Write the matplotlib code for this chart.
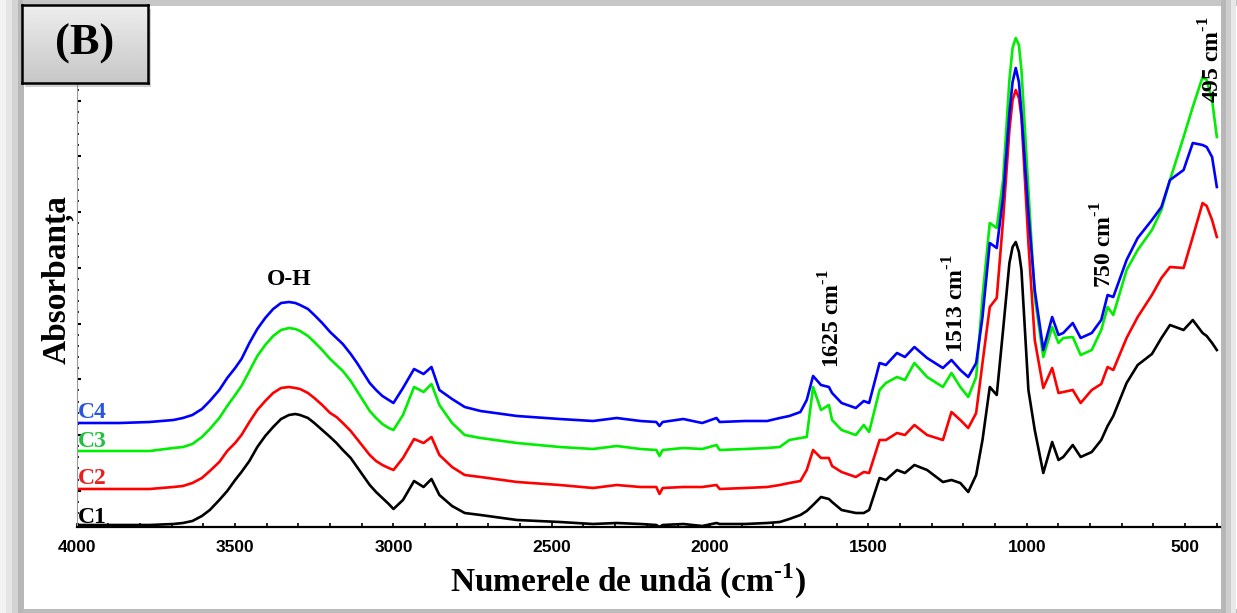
import numpy as np
import matplotlib.pyplot as plt
from matplotlib.ticker import MultipleLocator, AutoMinorLocator, FixedLocator
from matplotlib.patches import Rectangle

plt.rcParams['mathtext.fontset'] = 'custom'
plt.rcParams['mathtext.rm'] = 'Liberation Serif'
plt.rcParams['mathtext.bf'] = 'Liberation Serif:bold'

# wavenumbers (cm-1) shared by all four spectra
wavenumber = [4000, 3865, 3770, 3695, 3665, 3635, 3605, 3580, 3550, 3525,
              3500, 3480, 3455, 3430, 3405, 3380, 3355, 3330, 3310, 3295,
              3270, 3250, 3225, 3200, 3180, 3160, 3135, 3115, 3095, 3075,
              3055, 3035, 3015, 3000, 2970,
              2935, 2905, 2880, 2855, 2815, 2775, 2725, 2610, 2475, 2370,
              2295, 2220, 2170, 2160, 2150, 2085, 2025, 1980, 1970, 1890,
              1820, 1780, 1750, 1715, 1695, 1675, 1650, 1625, 1615, 1585,
              1540, 1515, 1498, 1465, 1445, 1410, 1385, 1355, 1315, 1265,
              1238, 1210, 1185, 1160, 1140, 1117, 1095, 1075, 1055, 1045,
              1035, 1025, 1017, 995, 975, 948, 920, 900, 885, 855,
              830, 795, 765, 745, 727, 685, 650, 605, 575, 548,
              505, 476, 445, 432, 415, 400]

# absorbance (arbitrary units, curves already offset as in the figure)
c1 = [0.02, 0.02, 0.02, 0.03, 0.04, 0.06, 0.11, 0.17, 0.27, 0.36,
      0.47, 0.55, 0.66, 0.80, 0.91, 1.00, 1.08, 1.12, 1.13, 1.12,
      1.09, 1.04, 0.97, 0.90, 0.84, 0.77, 0.69, 0.60, 0.51, 0.42,
      0.35, 0.29, 0.23, 0.18, 0.27,
      0.46, 0.40, 0.48, 0.32, 0.21, 0.14, 0.12, 0.07, 0.05, 0.03,
      0.04, 0.03, 0.02, 0.00, 0.02, 0.03, 0.01, 0.04, 0.03, 0.03,
      0.04, 0.05, 0.08, 0.12, 0.16, 0.22, 0.30, 0.28, 0.25, 0.17,
      0.14, 0.14, 0.17, 0.49, 0.47, 0.57, 0.54, 0.62, 0.57, 0.45,
      0.47, 0.44, 0.35, 0.52, 0.87, 1.40, 1.32, 1.97, 2.64, 2.80,
      2.85, 2.75, 2.57, 1.37, 0.97, 0.54, 0.85, 0.67, 0.70, 0.82,
      0.70, 0.75, 0.87, 1.01, 1.11, 1.44, 1.62, 1.73, 1.89, 2.02,
      1.97, 2.07, 1.94, 1.91, 1.84, 1.77]
c2 = [0.38, 0.38, 0.38, 0.40, 0.41, 0.44, 0.49, 0.56, 0.65, 0.76,
      0.84, 0.92, 1.05, 1.17, 1.26, 1.34, 1.39, 1.40, 1.39, 1.38,
      1.34, 1.29, 1.22, 1.14, 1.10, 1.04, 0.96, 0.88, 0.80, 0.72,
      0.66, 0.62, 0.59, 0.57, 0.69,
      0.88, 0.84, 0.90, 0.72, 0.60, 0.52, 0.50, 0.45, 0.42, 0.39,
      0.42, 0.40, 0.40, 0.33, 0.39, 0.40, 0.40, 0.42, 0.38, 0.39,
      0.40, 0.42, 0.44, 0.46, 0.57, 0.77, 0.69, 0.69, 0.61, 0.55,
      0.50, 0.55, 0.54, 0.87, 0.87, 0.94, 0.92, 1.02, 0.92, 0.87,
      1.15, 1.07, 0.99, 1.14, 1.64, 2.20, 2.29, 3.07, 3.97, 4.27,
      4.37, 4.29, 4.10, 2.84, 1.87, 1.39, 1.59, 1.34, 1.35, 1.37,
      1.24, 1.37, 1.43, 1.60, 1.57, 1.89, 2.10, 2.32, 2.49, 2.60,
      2.59, 2.90, 3.24, 3.21, 3.07, 2.90]
c3 = [0.76, 0.76, 0.76, 0.79, 0.80, 0.83, 0.90, 0.98, 1.09, 1.21,
      1.32, 1.41, 1.56, 1.71, 1.82, 1.91, 1.97, 1.99, 1.98, 1.96,
      1.91, 1.85, 1.77, 1.68, 1.62, 1.56, 1.46, 1.36, 1.26, 1.16,
      1.09, 1.03, 0.99, 0.97, 1.12,
      1.40, 1.35, 1.43, 1.22, 1.04, 0.92, 0.89, 0.84, 0.80, 0.78,
      0.81, 0.78, 0.77, 0.71, 0.77, 0.79, 0.78, 0.82, 0.77, 0.78,
      0.79, 0.80, 0.87, 0.89, 0.90, 1.40, 1.17, 1.22, 1.07, 0.97,
      0.92, 1.02, 0.95, 1.37, 1.44, 1.50, 1.47, 1.64, 1.50, 1.40,
      1.54, 1.40, 1.30, 1.50, 2.30, 3.04, 2.99, 3.47, 4.47, 4.79,
      4.89, 4.82, 4.57, 3.37, 2.30, 1.70, 2.00, 1.84, 1.89, 1.90,
      1.72, 1.77, 1.97, 2.20, 2.12, 2.57, 2.77, 2.97, 3.17, 3.47,
      3.90, 4.20, 4.50, 4.47, 4.27, 3.90]
c4 = [1.04, 1.04, 1.05, 1.07, 1.09, 1.12, 1.18, 1.26, 1.37, 1.49,
      1.59, 1.68, 1.84, 1.98, 2.09, 2.18, 2.24, 2.25, 2.24, 2.22,
      2.18, 2.12, 2.04, 1.95, 1.89, 1.83, 1.73, 1.64, 1.54, 1.44,
      1.37, 1.31, 1.27, 1.24, 1.39,
      1.58, 1.53, 1.60, 1.37, 1.28, 1.20, 1.16, 1.11, 1.08, 1.06,
      1.09, 1.06, 1.05, 1.01, 1.05, 1.08, 1.04, 1.09, 1.05, 1.06,
      1.06, 1.09, 1.11, 1.15, 1.27, 1.51, 1.42, 1.40, 1.34, 1.24,
      1.19, 1.26, 1.24, 1.64, 1.62, 1.74, 1.70, 1.80, 1.69, 1.59,
      1.67, 1.57, 1.50, 1.64, 2.10, 2.84, 2.79, 3.30, 4.14, 4.45,
      4.59, 4.45, 4.14, 3.14, 2.37, 1.77, 2.10, 1.92, 1.94, 2.04,
      1.89, 1.94, 2.07, 2.32, 2.30, 2.67, 2.89, 3.07, 3.20, 3.47,
      3.57, 3.84, 3.82, 3.80, 3.70, 3.40]

series = [("C1", c1, "#000000", "#000000", 0.04),
          ("C2", c2, "#ff0000", "#e82020", 0.43),
          ("C3", c3, "#00ee00", "#22c040", 0.80),
          ("C4", c4, "#0000ff", "#2a55e0", 1.09)]

# band labels: text, wavenumber, height
bands = [("1625", 1615, 1.59), ("1513", 1224, 1.74),
         ("750", 756, 2.39), ("495", 415, 4.24)]

W, H = 1237, 613
fig = plt.figure(figsize=(W / 100, H / 100), dpi=100)

# grey shadow frame round the picture
bg = np.ones((H, W, 3))
left_shades = [0.95, 0.90, 0.83, 0.72]
for i, s in enumerate(left_shades):
    bg[:, i * 6:(i + 1) * 6] = s
bg[:6, 23:] = 0.78
bg[609:, 23:] = 0.74
for i, s in enumerate([0.72, 0.81, 0.91]):
    bg[:, 1221 + i * 5:1226 + i * 5] = s
bax = fig.add_axes([0, 0, 1, 1], zorder=-5)
bax.imshow(bg, aspect='auto', interpolation='nearest')
bax.axis('off')

ax = fig.add_axes([76.8 / W, 1 - 527 / H, (1220 - 76.8) / W, 517 / H])
ax.patch.set_alpha(0)
for name, vals, col, tcol, ty in series:
    ax.plot(wavenumber, vals, color=col, lw=1.9, solid_joinstyle='round')
    ax.text(3996, ty, name, color=tcol, fontsize=17, fontweight='bold',
            family='Liberation Serif', ha='left', va='baseline')

sup = '$^{\\mathbf{\u20101}}$'
for lab, wn, h in bands:
    ax.text(wn, h, lab + ' cm' + sup, rotation=90, fontsize=17,
            fontweight='bold', family='Liberation Serif', ha='center', va='bottom')
ax.text(3330, 2.37, "O-H", fontsize=17, fontweight='bold', family='Liberation Serif',
        ha='center', va='bottom')

ax.set_xlim(4000, 390)
ax.set_ylim(0, 5.17)
ax.xaxis.set_major_locator(MultipleLocator(500))
ax.xaxis.set_minor_locator(MultipleLocator(100))
ax.yaxis.set_major_locator(FixedLocator(np.arange(0.363, 5.1, 0.557)))
ax.yaxis.set_minor_locator(AutoMinorLocator(5))
ax.tick_params(axis='x', which='both', direction='in', length=3, width=1.2, pad=9,
               labelsize=12.5)
ax.tick_params(axis='y', which='major', direction='in', length=3, width=1.5, labelleft=False)
ax.tick_params(axis='y', which='minor', direction='in', length=1.5, width=1.2)
for lbl in ax.get_xticklabels():
    lbl.set_fontweight('bold')
    lbl.set_family('Liberation Sans')
ax.spines['top'].set_visible(False)
ax.spines['right'].set_visible(False)
ax.spines['bottom'].set_linewidth(1.6)
ax.spines['left'].set_color('#9a9a9a')
ax.spines['left'].set_linewidth(0.8)

ax.set_xlabel('Numerele de undă (cm' + sup + ')', fontsize=24,
              fontweight='bold', family='Liberation Serif')
ax.xaxis.set_label_coords(0.482, -0.068)
ax.set_ylabel('Absorbanța', fontsize=24, fontweight='bold', family='Liberation Serif')
ax.yaxis.set_label_coords(-0.003, 0.478)

# (B) panel tag
fig.patches.append(Rectangle((25 / W, 1 - 87 / H), 126 / W, 78 / H, transform=fig.transFigure,
                             facecolor='#808080', alpha=0.35, edgecolor='none', zorder=4))
tag = fig.add_axes([22 / W, 1 - 83 / H, 126 / W, 78 / H], zorder=5)
grad = np.linspace(0.93, 0.78, 50)[:, None] * np.ones((50, 10))
tag.imshow(grad, cmap='gray', vmin=0, vmax=1, aspect='auto', extent=(0, 1, 0, 1))
tag.set_xticks([])
tag.set_yticks([])
for sp in tag.spines.values():
    sp.set_linewidth(1.8)
tag.text(0.5, 0.5, "(B)", fontsize=32, fontweight='bold', family='Liberation Serif',
         ha='center', va='center', transform=tag.transAxes)

fig.savefig('out.png', dpi=100)
